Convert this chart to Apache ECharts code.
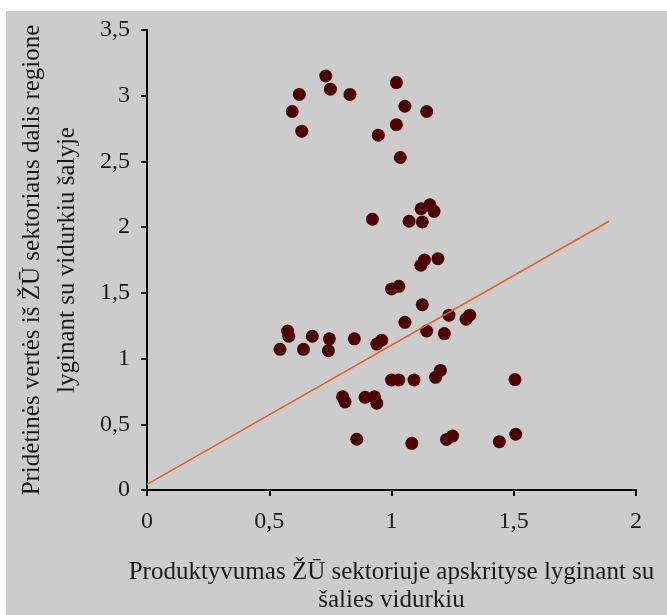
<!DOCTYPE html>
<html>
<head>
<meta charset="utf-8">
<script src="https://cdn.jsdelivr.net/npm/echarts@6/dist/echarts.min.js"></script>
<style>
  html, body { margin: 0; padding: 0; background: #ffffff; }
  #chart { position: absolute; left: 6px; top: 11px; width: 661px; height: 604px; }
</style>
</head>
<body>
<div id="chart"></div>
<script>
// Productivity (x) vs share (y)
const xVals = [0.731, 0.75, 0.623, 0.83, 0.594, 0.633, 1.02, 1.055, 1.144, 1.02, 0.946, 1.036,
  0.922, 1.072, 1.126, 1.121, 1.157, 1.174, 1.12, 1.135, 1.19, 1.0, 1.03,
  1.126, 0.575, 0.58, 0.544, 0.676, 0.64, 0.746, 0.742, 0.848, 0.94, 0.96, 1.055, 1.144, 1.216, 1.235, 1.305, 1.32,
  1.0, 1.03, 1.092, 1.18, 1.2, 1.505,
  0.80, 0.81, 0.892, 0.93, 0.94, 0.858, 1.083, 1.225, 1.25, 1.441, 1.508];
const yVals = [3.15, 3.05, 3.01, 3.01, 2.88, 2.73, 3.10, 2.92, 2.88, 2.78, 2.70, 2.53,
  2.06, 2.045, 2.04, 2.14, 2.17, 2.12, 1.71, 1.75, 1.76, 1.53, 1.55,
  1.41, 1.21, 1.17, 1.07, 1.17, 1.07, 1.15, 1.06, 1.15, 1.11, 1.14, 1.276, 1.21, 1.19, 1.33, 1.30, 1.33,
  0.837, 0.837, 0.837, 0.857, 0.91, 0.84,
  0.71, 0.67, 0.705, 0.71, 0.66, 0.386, 0.355, 0.385, 0.41, 0.368, 0.424];
// Trend line endpoints
const lineX = [0, 1.89];
const lineY = [0.043, 2.045];
const xTicks = { min: 0, max: 2, interval: 0.5 };
const yTicks = { min: 0, max: 3.5, interval: 0.5 };

const pts = xVals.map((x, i) => [x, yVals[i]]);
const linePts = lineX.map((x, i) => [x, lineY[i]]);
const fmt = v => String(v).replace('.', ',');
const font = '"Liberation Serif", "DejaVu Serif", serif';

const chart = echarts.init(document.getElementById('chart'));
chart.setOption({
  backgroundColor: '#cccccc',
  animation: false,
  textStyle: { fontFamily: font },
  grid: { left: 141, right: 31, top: 19, bottom: 125, containLabel: false, outerBoundsMode: 'none' },
  xAxis: {
    type: 'value', min: xTicks.min, max: xTicks.max, interval: xTicks.interval,
    splitLine: { show: false },
    axisLine: { lineStyle: { color: '#000', width: 2 } },
    axisTick: { show: true, length: 6, lineStyle: { color: '#000', width: 2 } },
    axisLabel: { formatter: fmt, color: '#1a1a1a', fontSize: 24, fontFamily: font, margin: 20 },
    name: 'Produktyvumas ŽŪ sektoriuje apskrityse lyginant su\nšalies vidurkiu',
    nameLocation: 'middle', nameGap: 68,
    nameTextStyle: { fontSize: 25, color: '#1a1a1a', fontFamily: font, lineHeight: 28 }
  },
  yAxis: {
    type: 'value', min: yTicks.min, max: yTicks.max, interval: yTicks.interval,
    splitLine: { show: false },
    axisLine: { lineStyle: { color: '#000', width: 2 } },
    axisTick: { show: true, length: 6, lineStyle: { color: '#000', width: 2 } },
    axisLabel: { formatter: fmt, color: '#1a1a1a', fontSize: 24, fontFamily: font, margin: 17 },
    name: 'Pridėtinės vertės iš ŽŪ sektoriaus dalis regione\nlyginant su vidurkiu šalyje',
    nameLocation: 'middle', nameRotate: 90, nameGap: 62,
    nameTextStyle: { fontSize: 25, color: '#1a1a1a', fontFamily: font, lineHeight: 35 }
  },
  series: [
    {
      type: 'line', data: linePts, symbol: 'none',
      lineStyle: { color: '#e0602a', width: 1.5 }, z: 3
    },
    {
      type: 'scatter', data: pts, symbol: 'circle', symbolSize: 13,
      itemStyle: { color: '#4d0000', opacity: 1 }, z: 2
    }
  ]
});
</script>
</body>
</html>
